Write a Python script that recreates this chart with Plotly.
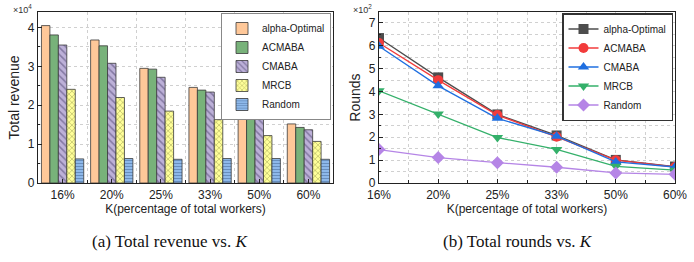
import plotly.graph_objects as go

categories = ["16%", "20%", "25%", "33%", "50%", "60%"]
methods = ["alpha-Optimal", "ACMABA", "CMABA", "MRCB", "Random"]

# Total revenue (raw units)
revenue_alpha = [40500, 36800, 29500, 24600, 19000, 15200]
revenue_acmaba = [38100, 35300, 29300, 23900, 17800, 14300]
revenue_cmaba = [35500, 30800, 27200, 23400, 16800, 13700]
revenue_mrcb = [24100, 22000, 18500, 16300, 12200, 10700]
revenue_random = [6200, 6300, 6100, 6300, 6300, 6100]

# Total rounds (raw units)
rounds_alpha = [634, 462, 300, 208, 101, 72]
rounds_acmaba = [612, 450, 297, 202, 100, 70]
rounds_cmaba = [598, 425, 283, 205, 92, 70]
rounds_mrcb = [403, 302, 199, 147, 73, 56]
rounds_random = [146, 111, 89, 69, 44, 38]

rev_ticks = [0, 10000, 20000, 30000, 40000]
rev_ticktext = ["0", "1", "2", "3", "4"]
rnd_ticks = [0, 100, 200, 300, 400, 500, 600, 700]
rnd_ticktext = ["0", "1", "2", "3", "4", "5", "6", "7"]

xi = list(range(len(categories)))

bar_styles = [
    dict(color="#FFC899", pattern=dict(shape="")),
    dict(color="#78B27A", pattern=dict(shape="")),
    dict(color="#BCB0D8", pattern=dict(shape="\\", fgcolor="#4A3F6B", size=5, solidity=0.3)),
    dict(color="#FFFF99", pattern=dict(shape="x", fgcolor="#6B6B2A", size=4, solidity=0.3)),
    dict(color="#8DB8EA", pattern=dict(shape="-", fgcolor="#3A5A8A", size=3, solidity=0.3)),
]
revenues = [revenue_alpha, revenue_acmaba, revenue_cmaba, revenue_mrcb, revenue_random]
rounds = [rounds_alpha, rounds_acmaba, rounds_cmaba, rounds_mrcb, rounds_random]

line_colors = ["#4D4D4D", "#F23B3B", "#1F6FE0", "#34B06A", "#B585E6"]
line_symbols = ["square", "circle", "triangle-up", "triangle-down", "diamond"]

fig = go.Figure()
for name, vals, st in zip(methods, revenues, bar_styles):
    fig.add_trace(go.Bar(
        x=xi, y=vals, name=name, xaxis="x", yaxis="y", legend="legend",
        marker=dict(color=st["color"], pattern=st["pattern"],
                    line=dict(color="#3A3A3A", width=0.8)),
    ))
for name, vals, c, s in zip(methods, rounds, line_colors, line_symbols):
    fig.add_trace(go.Scatter(
        x=xi, y=vals, name=name, xaxis="x2", yaxis="y2", legend="legend2",
        mode="lines+markers", line=dict(color=c, width=1.3),
        marker=dict(symbol=s, size=10, color=c),
    ))

W, H = 694, 262
def px(x):
    return x / W
def py(y):
    return 1 - y / H

axis_common = dict(
    showline=True, linecolor="#222", linewidth=1.2, mirror=True,
    ticks="inside", ticklen=4, tickcolor="#222",
    tickfont=dict(family="Liberation Sans, Arial", size=12, color="#222"),
    zeroline=False, automargin=False,
)
grid = dict(gridcolor="#D0D0D0", griddash="dot", gridwidth=1)

fig.update_layout(
    width=W, height=H, margin=dict(l=0, r=0, t=0, b=0, autoexpand=False),
    paper_bgcolor="white", plot_bgcolor="white",
    barmode="group", bargap=0.14, bargroupgap=0,
    font=dict(family="Liberation Sans, Arial", color="#222"),
    xaxis=dict(domain=[px(38), px(333)], anchor="y", range=[-0.5, 5.5],
               tickvals=xi, ticktext=categories, showgrid=False,
               minor=dict(tickvals=[i + 0.5 for i in xi[:-1]], showgrid=True, ticks="inside", ticklen=3, **grid),
               title=dict(text="K(percentage of total workers)", font=dict(size=12), standoff=4),
               **axis_common),
    yaxis=dict(domain=[py(183), py(12)], anchor="x", range=[0, 44000],
               tickvals=rev_ticks, ticktext=rev_ticktext, showgrid=True, **grid,
               minor=dict(dtick=5000, showgrid=True, ticks="inside", ticklen=2, **grid),
               title=dict(text="Total revenue", font=dict(size=14), standoff=4),
               **axis_common),
    xaxis2=dict(domain=[px(379), px(675)], anchor="y2", range=[0, 5],
                tickvals=xi, ticktext=categories, showgrid=True, **grid,
                minor=dict(tickvals=[i + 0.5 for i in xi[:-1]], showgrid=True, ticks="inside", ticklen=3, **grid),
                title=dict(text="K(percentage of total workers)", font=dict(size=12), standoff=4),
                **axis_common),
    yaxis2=dict(domain=[py(183), py(12)], anchor="x2", range=[0, 748],
                tickvals=rnd_ticks, ticktext=rnd_ticktext, showgrid=True, **grid,
                minor=dict(dtick=50, showgrid=True, ticks="inside", ticklen=2, **grid),
                title=dict(text="Rounds", font=dict(size=14), standoff=4),
                **axis_common),
    legend=dict(x=px(331), y=py(13), xanchor="right", yanchor="top",
                bgcolor="white", bordercolor="#888", borderwidth=1,
                font=dict(size=10), tracegroupgap=0, itemwidth=30),
    legend2=dict(x=px(673), y=py(13), xanchor="right", yanchor="top",
                 bgcolor="white", bordercolor="#333", borderwidth=1.5,
                 font=dict(size=10), tracegroupgap=0, itemwidth=30),
    showlegend=True,
)

annotations = [
    dict(text="×10<sup>4</sup>", x=px(22), y=py(9), xref="paper", yref="paper",
         xanchor="center", yanchor="middle",
         showarrow=False, font=dict(size=9, color="#333")),
    dict(text="×10<sup>2</sup>", x=px(362), y=py(9), xref="paper", yref="paper",
         xanchor="center", yanchor="middle",
         showarrow=False, font=dict(size=9, color="#333")),
    dict(text="(a) Total revenue vs. <i>K</i>", x=px(170), y=py(241), xref="paper", yref="paper",
         xanchor="center", yanchor="middle",
         showarrow=False, font=dict(family="Liberation Serif, Times New Roman", size=17, color="#111")),
    dict(text="(b) Total rounds vs. <i>K</i>", x=px(518), y=py(241), xref="paper", yref="paper",
         xanchor="center", yanchor="middle",
         showarrow=False, font=dict(family="Liberation Serif, Times New Roman", size=17, color="#111")),
]
fig.update_layout(annotations=annotations)

fig.write_html("out.html", config={"displayModeBar": False},
               post_script="document.body.style.margin='0px';")
